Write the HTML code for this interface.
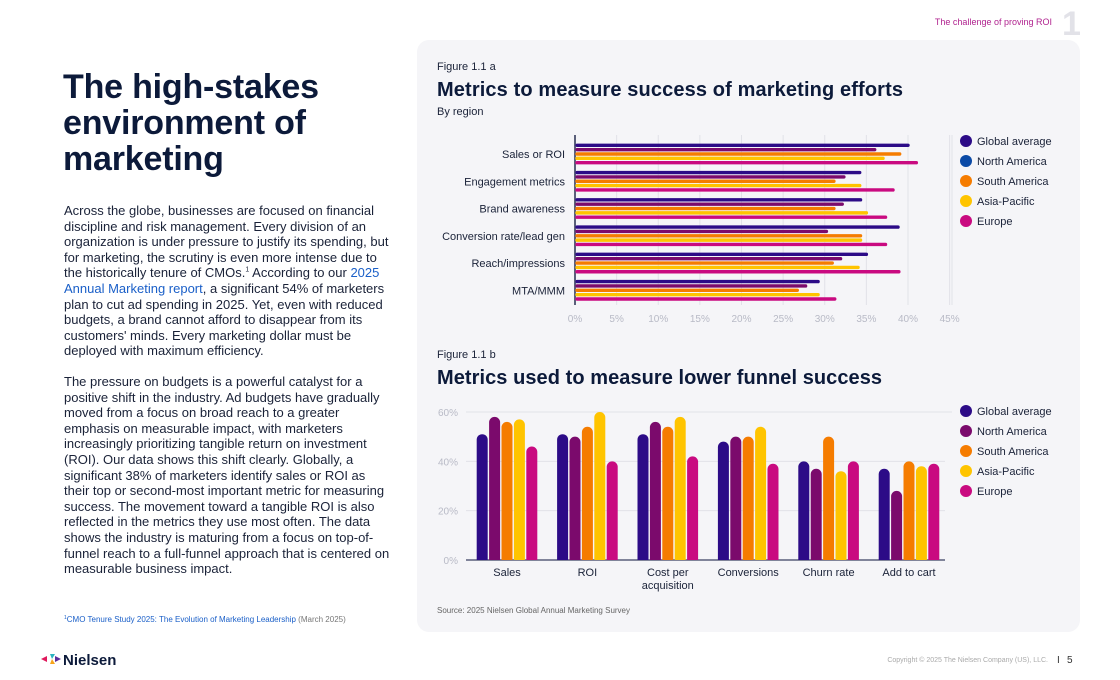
<!DOCTYPE html>
<html><head><meta charset="utf-8">
<style>
*{margin:0;padding:0;box-sizing:border-box}
body{width:1120px;height:680px;background:#fff;font-family:"Liberation Sans",sans-serif;position:relative;overflow:hidden;color:#111a33}
#title{position:absolute;left:63px;top:69px;font-size:34px;font-weight:bold;line-height:36px;letter-spacing:-0.2px;color:#0c1a3a}
.para{position:absolute;left:64px;width:330px;font-size:13px;line-height:15.6px;color:#1a2238}
.para a{color:#1a5fc8;text-decoration:none}
.para sup{font-size:7px;line-height:0}
#card{position:absolute;left:417px;top:40px;width:663px;height:592px;background:#f5f5f8;border-radius:12px}
svg{position:absolute;left:0;top:0}
</style></head><body>
<div id="title">The high-stakes<br>environment of<br>marketing</div>
<div class="para" style="top:203px">Across the globe, businesses are focused on financial discipline and risk management. Every division of an organization is under pressure to justify its spending, but for marketing, the scrutiny is even more intense due to the historically tenure of CMOs.<sup>1</sup> According to our <a>2025 Annual Marketing report</a>, a significant 54% of marketers plan to cut ad spending in 2025. Yet, even with reduced budgets, a brand cannot afford to disappear from its customers' minds. Every marketing dollar must be deployed with maximum efficiency.</div>
<div class="para" style="top:374px">The pressure on budgets is a powerful catalyst for a positive shift in the industry. Ad budgets have gradually moved from a focus on broad reach to a greater emphasis on measurable impact, with marketers increasingly prioritizing tangible return on investment (ROI). Our data shows this shift clearly. Globally, a significant 38% of marketers identify sales or ROI as their top or second-most important metric for measuring success. The movement toward a tangible ROI is also reflected in the metrics they use most often. The data shows the industry is maturing from a focus on top-of-funnel reach to a full-funnel approach that is centered on measurable business impact.</div>
<div id="card"></div>
<svg id="s" width="1120" height="680" font-family="Liberation Sans, sans-serif">
<text x="1052" y="25" font-size="9" fill="#b0238f" text-anchor="end">The challenge of proving ROI</text>
<text x="1062" y="35" font-size="34" font-weight="bold" fill="#e2e2e8">1</text>
<text x="64" y="622" font-size="8" fill="#1a5fc8"><tspan font-size="5" dy="-3">1</tspan><tspan dy="3">CMO Tenure Study 2025: The Evolution of Marketing Leadership</tspan><tspan fill="#777"> (March 2025)</tspan></text>
<g><polygon points="41,659 47,656 47,662" fill="#e0195c"/><polygon points="50,654 55,654 52,659" fill="#2bb3c0"/><polygon points="50,664 55,664 52,659" fill="#f7a51c"/><polygon points="55,656 61,659 55,662" fill="#5b2c9c"/>
<text x="63" y="665" font-size="15" font-weight="bold" fill="#0c1a3a">Nielsen</text></g>
<text x="1048" y="662" font-size="7" fill="#aaa" text-anchor="end">Copyright © 2025 The Nielsen Company (US), LLC.</text>
<text x="1057" y="663" font-size="10" fill="#333">I</text>
<text x="1067" y="663" font-size="10" fill="#333">5</text>
<text x="437" y="70" font-size="11" fill="#1a2238">Figure 1.1 a</text>
<text x="437" y="96" font-size="20" font-weight="bold" fill="#0c1a3a" textLength="466">Metrics to measure success of marketing efforts</text>
<text x="437" y="115" font-size="11" fill="#1a2238">By region</text>
<text x="437" y="358" font-size="11" fill="#1a2238">Figure 1.1 b</text>
<text x="437" y="384" font-size="20" font-weight="bold" fill="#0c1a3a" textLength="445">Metrics used to measure lower funnel success</text>
<text x="437" y="613" font-size="8" fill="#666">Source: 2025 Nielsen Global Annual Marketing Survey</text>
<g id="ga"></g><g id="gb"></g>
</svg>
<script>
const NS="http://www.w3.org/2000/svg";
const aCategories=["Sales or ROI","Engagement metrics","Brand awareness","Conversion rate/lead gen","Reach/impressions","MTA/MMM"];
const aGlobal=[40,34.2,34.3,38.8,35,29.2];
const aNorthAmerica=[36,32.3,32.1,30.2,31.9,27.7];
const aSouthAmerica=[39,31.1,31.1,34.3,30.9,26.7];
const aAsiaPacific=[37,34.2,35,34.3,34,29.2];
const aEurope=[41,38.2,37.3,37.3,38.9,31.2];
const aTicks=[0,5,10,15,20,25,30,35,40,45];
const bCategories=[["Sales"],["ROI"],["Cost per","acquisition"],["Conversions"],["Churn rate"],["Add to cart"]];
const bGlobal=[51,51,51,48,40,37];
const bNorthAmerica=[58,50,56,50,37,28];
const bSouthAmerica=[56,54,54,50,50,40];
const bAsiaPacific=[57,60,58,54,36,38];
const bEurope=[46,40,42,39,40,39];
const bTicks=[0,20,40,60];
const seriesNames=["Global average","North America","South America","Asia-Pacific","Europe"];
const barColors=["#2c0b87","#7b0a6c","#f57c00","#ffc400","#c90a80"];
const legendAColors=["#2c0b87","#0b4aa6","#f57c00","#ffc400","#c90a80"];
function mk(tag,attrs,parent,txt){const e=document.createElementNS(NS,tag);for(const k in attrs)e.setAttribute(k,attrs[k]);if(txt!=null)e.textContent=txt;parent.appendChild(e);return e;}
const ga=document.getElementById('ga');
const ax=v=>575+v*(908-575)/40;
const ay=i=>154+i*27.26;
aTicks.forEach(t=>{
 const l=mk('line',{x1:ax(t),x2:ax(t),y1:135,y2:305,stroke:t===0?'#5a5f7a':'#e1e2e8','stroke-width':t===0?2:1},ga);
 
 
 const tx=mk('text',{x:ax(t),y:322,'font-size':10,fill:'#b8bac6','text-anchor':'middle'},ga,t+'%');
 
 
});
const aSeries=[aGlobal,aNorthAmerica,aSouthAmerica,aAsiaPacific,aEurope];
aCategories.forEach((c,i)=>{
 const t=mk('text',{x:565,y:ay(i)+4,'font-size':11,fill:'#1a2238','text-anchor':'end'},ga,c);
 
 
 aSeries.forEach((s,j)=>{
  const y=ay(i)+(j-2)*4.35;
  const b=mk('line',{x1:577,x2:ax(s[i]),y1:y,y2:y,stroke:barColors[j],'stroke-width':3.4,'stroke-linecap':'round'},ga);
  
  
 });
});
seriesNames.forEach((n,j)=>{
 const c=mk('circle',{cx:966,cy:141+j*20,r:6,fill:legendAColors[j]},ga);
 
 
 const t=mk('text',{x:977,y:145+j*20,'font-size':11,fill:'#1a2238'},ga,n);
 
 
});
const sepA=mk('line',{x1:952,x2:952,y1:135,y2:305,stroke:'#e1e2e8'},ga);


const gb=document.getElementById('gb');
const by=v=>560-v*(560-412)/60;
const bx=i=>507+i*80.4;
bTicks.forEach(t=>{
 const l=mk('line',{x1:466,x2:t===60?952:945,y1:by(t),y2:by(t),stroke:t===0?'#5a5f7a':'#e1e2e8','stroke-width':t===0?1.5:1},gb);
 
 
 const tx=mk('text',{x:458,y:by(t)+4,'font-size':10,fill:'#b8bac6','text-anchor':'end'},gb,t+'%');
 
 
});
const bSeries=[bGlobal,bNorthAmerica,bSouthAmerica,bAsiaPacific,bEurope];
bCategories.forEach((c,i)=>{
 c.forEach((ln,k)=>{
  const t=mk('text',{x:bx(i),y:576+k*13,'font-size':11,fill:'#1a2238','text-anchor':'middle'},gb,ln);
  
  
 });
 bSeries.forEach((s,j)=>{
  const x=bx(i)+(j-2)*12.4-5.5, top=by(s[i]);
  const b=mk('path',{d:`M${x},560 V${top+5.5} a5.5,5.5 0 0 1 11,0 V560 Z`,fill:barColors[j]},gb);
  
  
 });
});
seriesNames.forEach((n,j)=>{
 const c=mk('circle',{cx:966,cy:411+j*20,r:6,fill:barColors[j]},gb);
 
 
 const t=mk('text',{x:977,y:415+j*20,'font-size':11,fill:'#1a2238'},gb,n);
 
 
});
</script>
</body></html>
